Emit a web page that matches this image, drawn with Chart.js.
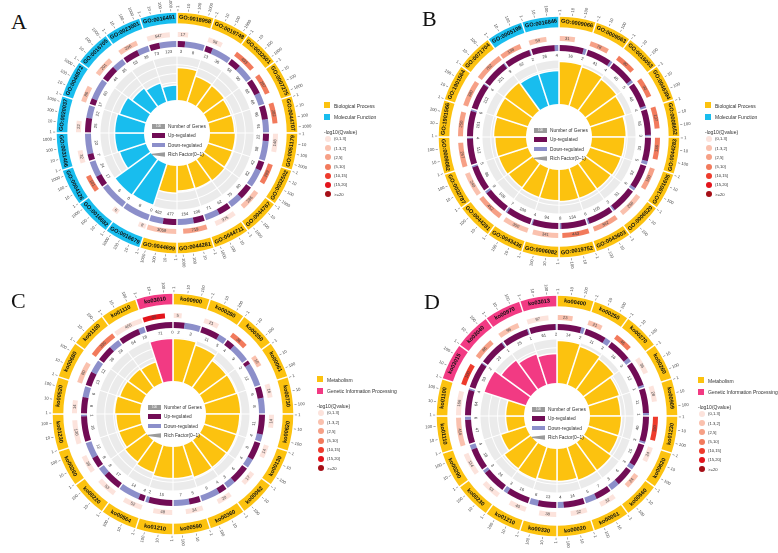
<!DOCTYPE html>
<html>
<head>
<meta charset="utf-8">
<script src="https://cdn.jsdelivr.net/npm/chart.js@4.4.1/dist/chart.umd.min.js"></script>
<style>
  body { margin:0; background:#fff; }
  #page { position:relative; width:778px; height:553px; overflow:hidden; font-family:"Liberation Sans", Arial, sans-serif; }
  canvas { position:absolute; }
  .letter { position:absolute; font-family:"Liberation Serif","DejaVu Serif",serif; font-size:22px; line-height:22px; color:#111; }
  .key { position:absolute; font-size:5px; line-height:6px; color:#333; white-space:nowrap; }
  .key div { position:absolute; left:0; }
  .inner { position:absolute; font-size:4.8px; line-height:5px; color:#333; white-space:nowrap; }
  .inner div { position:absolute; }
</style>
</head>
<body>
<div id="page"></div>
<script>
// ---- panel A (GO, DEGs) ----
const termsA = ['GO:0018958','GO:0019748','GO:0032501','GO:0007275','GO:0044707','GO:0051179','GO:0032502','GO:0044767','GO:0044711','GO:0044281','GO:0044699',
                'GO:0016679','GO:0016682','GO:0004126','GO:0031406','GO:0020037','GO:0046872','GO:0016705','GO:0023001','GO:0016491'];
const classA = [0,0,0,0,0,0,0,0,0,0,0, 1,1,1,1,1,1,1,1,1];
const genesA = [17, 56, 493, 287, 282, 148, 289, 286, 375, 719, 3059, 8, 6, 101, 32, 22, 86, 201, 236, 547];
const qA     = [0, 0, 3, 3, 3, 0, 3, 1, 0, 2, 1, 0, 0, 3, 0, 0, 1, 1, 1, 0];
const upA    = [3, 13, 58, 88, 96, 22, 42, 80, 62, 106, 477, 0, 0, 17, 7, 25, 17, 44, 53, 73];
const downA  = [8, 36, 90, 68, 91, 58, 82, 75, 71, 154, 482, 8, 6, 24, 22, 22, 60, 35, 39, 123];
const richA  = [0.74, 0.61, 0.59, 0.55, 0.56, 0.58, 0.58, 0.6, 0.58, 0.57, 0.62, 0.98, 1.0, 0.63, 0.67, 0.67, 0.63, 0.52, 0.45, 0.34];
const ticksA = [1, 10, 100, 1000];

// ---- panel B ----
const termsB = ['GO:0009066','GO:0009063','GO:0016053','GO:0046394','GO:0008652','GO:0044283','GO:1901605','GO:0006520','GO:0043603','GO:0019752',
                'GO:0006082','GO:0043436','GO:0044281','GO:0032787','GO:0009082','GO:1901566','GO:1901564','GO:0071704','GO:0005198','GO:0016846'];
const classB = [0,0,0,0,0,0,0,0,0,0,0,0,0,0,0,0,0,0, 1,1];
const genesB = [31, 78, 90, 90, 137, 136, 160, 256, 342, 443, 341, 350, 452, 240, 257, 250, 380, 752, 138, 54];
const qB     = [1, 2, 3, 3, 3, 3, 2, 1, 2, 3, 1, 1, 2, 1, 2, 2, 2, 2, 2, 1];
const upB    = [16, 41, 45, 48, 55, 33, 52, 51, 105, 134, 94, 100, 106, 86, 112, 101, 112, 221, 62, 26];
const downB  = [2, 4, 5, 4, 3, 5, 6, 3, 6, 8, 4, 7, 9, 5, 4, 6, 4, 9, 2, 4];
const richB  = [0.97, 0.93, 0.88, 0.84, 0.78, 0.75, 0.74, 0.72, 0.72, 0.72, 0.7, 0.7, 0.68, 0.7, 0.71, 0.74, 0.77, 0.79, 0.76, 0.76];
const ticksB = [1, 10, 100];

// ---- panel C (KEGG) ----
const termsC = ['ko00900','ko00280','ko00350','ko00061','ko00730','ko00620','ko00130','ko00062','ko00360','ko00590',
                'ko01210','ko00564','ko00220','ko00260','ko01230','ko00520','ko00680','ko01100','ko01110','ko03010'];
const classC = [0,0,0,0,0,0,0,0,0,0,0,0,0,0,0,0,0,0,0, 1];
const genesC = [5, 21, 38, 10, 16, 14, 14, 17, 20, 34, 48, 52, 53, 36, 130, 14, 80, 330, 400, 90];
const qC     = [0, 0, 3, 1, 0, 0, 0, 0, 0, 0, 0, 0, 0, 0, 0, 0, 1, 3, 0, 5];
const upC    = [2, 11, 4, 2, 6, 11, 8, 6, 4, 5, 15, 4, 17, 8, 16, 9, 13, 36, 64, 71];
const downC  = [3, 5, 9, 12, 8, 4, 4, 3, 9, 7, 2, 14, 8, 12, 1, 6, 12, 24, 18, 0];
const richC  = [0.97, 0.9, 0.76, 0.77, 0.79, 0.77, 0.77, 0.76, 0.77, 0.72, 0.72, 0.66, 0.61, 0.55, 0.55, 0.58, 0.53, 0.52, 0.5, 0.97];
const ticksC = [1, 10, 100];

// ---- panel D ----
const termsD = ['ko00400','ko00250','ko00270','ko00260','ko00909','ko01230','ko00620','ko00660','ko00051','ko00020',
                'ko00330','ko01210','ko00230','ko00290','ko01110','ko01100','ko03015','ko03040','ko00970','ko03013'];
const classD = [0,0,0,0,0,0,0,0,0,0,0,0,0,0,0,0, 1,1,1,1];
const genesD = [23, 21, 46, 36, 28, 150, 24, 24, 32, 32, 38, 40, 53, 114, 416, 166, 100, 86, 96, 97];
const qD     = [1, 1, 3, 0, 0, 4, 0, 1, 0, 0, 0, 0, 0, 0, 1, 0, 4, 2, 1, 0];
const upD    = [14, 11, 16, 12, 11, 40, 15, 6, 7, 14, 13, 16, 24, 18, 47, 64, 53, 23, 25, 61];
const downD  = [2, 3, 3, 1, 1, 3, 3, 3, 5, 4, 6, 3, 3, 4, 6, 4, 2, 1, 1, 2];
const richD  = [0.97, 0.92, 0.86, 0.75, 0.7, 0.72, 0.72, 0.79, 0.79, 0.74, 0.73, 0.77, 0.74, 0.6, 0.42, 0.42, 1.0, 0.83, 0.74, 0.67];
const ticksD = [1, 10, 100];

const qLabels = ['(0,1.3]', '(1.3,2]', '(2,5]', '(5,10]', '(10,15]', '(15,20]', '>=20'];
const qColors = ['#FCE3DC', '#FAC1AE', '#F6A086', '#F27A5C', '#EE3B2C', '#E3141C', '#A50E16'];
const catsGO = ['Biological Process', 'Molecular Function'];
const catsKO = ['Metabolism', 'Genetic Information Processing'];
const colGO = ['#FCC20F', '#18BDEE'];
const colKO = ['#FCC20F', '#F23A83'];
const upColor = '#710C55', downColor = '#8C8FCA', gray = '#EBEBEB', CLEAR = 'rgba(0,0,0,0)';

const R_OUT = 121, R_UD = 86, R_GRAY = 77, GAP = 0.025;

const panels = [
  { letter:'A', lx:11, ly:11, cx:177, cy:133, terms:termsA, cls:classA, genes:genesA, q:qA, up:upA, down:downA, rich:richA, ticks:ticksA, L:3.5, cats:catsGO, colors:colGO, kx:324, ky:102 },
  { letter:'B', lx:422, ly:8, cx:559, cy:137, terms:termsB, cls:classB, genes:genesB, q:qB, up:upB, down:downB, rich:richB, ticks:ticksB, L:2.9, cats:catsGO, colors:colGO, kx:705, ky:102 },
  { letter:'C', lx:11, ly:290, cx:173, cy:414, terms:termsC, cls:classC, genes:genesC, q:qC, up:upC, down:downC, rich:richC, ticks:ticksC, L:2.6, cats:catsKO, colors:colKO, kx:317, ky:376 },
  { letter:'D', lx:424, ly:291, cx:557, cy:416, terms:termsD, cls:classD, genes:genesD, q:qD, up:upD, down:downD, rich:richD, ticks:ticksD, L:2.7, cats:catsKO, colors:colKO, kx:698, ky:377 }
];

const page = document.getElementById('page');

function tang(ctx, txt, x, y, a, r, font, color) {
  ctx.save();
  ctx.translate(x + r * Math.cos(a), y + r * Math.sin(a));
  ctx.rotate(Math.sin(a) < 1e-9 ? a + Math.PI / 2 : a - Math.PI / 2);
  ctx.font = font; ctx.fillStyle = color;
  ctx.textAlign = 'center'; ctx.textBaseline = 'middle';
  ctx.fillText(txt, 0, 0);
  ctx.restore();
}

function radial(ctx, txt, x, y, a, r, font, color) {
  ctx.save();
  ctx.translate(x + r * Math.cos(a), y + r * Math.sin(a));
  const right = Math.cos(a) >= -1e-9;
  ctx.rotate(right ? a : a + Math.PI);
  ctx.font = font; ctx.fillStyle = color;
  ctx.textAlign = right ? 'left' : 'right'; ctx.textBaseline = 'middle';
  ctx.fillText(txt, 0, 0);
  ctx.restore();
}

// labels, tick scale and numbers on the rings
const ringText = {
  id: 'ringText',
  afterDatasetsDraw(chart, args, opts) {
    const p = opts.panel, ctx = chart.ctx;
    const sec = chart.getDatasetMeta(0).data;
    const gen = chart.getDatasetMeta(2).data;
    const ud = chart.getDatasetMeta(4).data;
    sec.forEach((arc, i) => {
      const mid = (arc.startAngle + arc.endAngle) / 2;
      tang(ctx, p.terms[i], arc.x, arc.y, mid, (arc.innerRadius + arc.outerRadius) / 2, 'bold 5.6px "Liberation Sans", Arial', '#111');
      const span = arc.endAngle - arc.startAngle;
      p.ticks.forEach(t => {
        const a = arc.startAngle + span * (GAP + (1 - 2 * GAP) * Math.log10(t) / p.L);
        ctx.save();
        ctx.strokeStyle = '#555'; ctx.lineWidth = 0.5;
        ctx.beginPath();
        ctx.moveTo(arc.x + (arc.outerRadius + 0.8) * Math.cos(a), arc.y + (arc.outerRadius + 0.8) * Math.sin(a));
        ctx.lineTo(arc.x + (arc.outerRadius + 3) * Math.cos(a), arc.y + (arc.outerRadius + 3) * Math.sin(a));
        ctx.stroke();
        ctx.restore();
        radial(ctx, String(t), arc.x, arc.y, a, arc.outerRadius + 4.2, '4.2px "Liberation Sans", Arial', '#444');
      });
      const g = gen[3 * i + 1];
      tang(ctx, String(p.genes[i]), g.x, g.y, (g.startAngle + g.endAngle) / 2, (g.innerRadius + g.outerRadius) / 2, '4.2px "Liberation Sans", Arial', '#444');
      const u = ud[4 * i + 1], d = ud[4 * i + 2];
      tang(ctx, String(p.up[i]), u.x, u.y, (u.startAngle + u.endAngle) / 2, u.innerRadius - 4.5, '4.2px "Liberation Sans", Arial', '#333');
      tang(ctx, String(p.down[i]), d.x, d.y, (d.startAngle + d.endAngle) / 2, d.innerRadius - 4.5, '4.2px "Liberation Sans", Arial', '#333');
    });
  }
};

function ringChart(p) {
  const S = 300;
  const cv = document.createElement('canvas');
  cv.width = S; cv.height = S;
  cv.style.left = (p.cx - S / 2) + 'px'; cv.style.top = (p.cy - S / 2) + 'px';
  cv.style.width = S + 'px'; cv.style.height = S + 'px';
  page.appendChild(cv);

  const geneData = [], geneCol = [];
  p.genes.forEach((g, i) => {
    const f = (1 - 2 * GAP) * Math.min(1, Math.log10(g) / p.L);
    geneData.push(GAP, f, 1 - GAP - f);
    geneCol.push(CLEAR, qColors[p.q[i]], CLEAR);
  });
  const udData = [], udCol = [];
  p.up.forEach((u, i) => {
    const d = p.down[i], t = (u + d) || 1;
    udData.push(GAP, (1 - 2 * GAP) * u / t, (1 - 2 * GAP) * d / t, GAP);
    udCol.push(CLEAR, upColor, downColor, CLEAR);
  });

  new Chart(cv, {
    type: 'doughnut',
    data: {
      datasets: [
        { data: p.terms.map(() => 1), backgroundColor: p.cls.map(c => p.colors[c]), borderColor: '#fff', borderWidth: 1.4, weight: 12 },
        { data: [1], backgroundColor: CLEAR, borderWidth: 0, weight: 8 },
        { data: geneData, backgroundColor: geneCol, borderWidth: 0, weight: 5 },
        { data: [1], backgroundColor: CLEAR, borderWidth: 0, weight: 4 },
        { data: udData, backgroundColor: udCol, borderWidth: 0, weight: 6 }
      ]
    },
    options: {
      responsive: false, animation: false, devicePixelRatio: 2, events: [],
      radius: R_OUT, cutout: (R_UD / R_OUT * 100) + '%',
      plugins: { legend: { display: false }, tooltip: { enabled: false }, ringText: { panel: p } }
    },
    plugins: [ringText]
  });
}

function richChart(p) {
  const S = R_GRAY * 2;
  const cv = document.createElement('canvas');
  cv.width = S; cv.height = S;
  cv.style.left = (p.cx - R_GRAY) + 'px'; cv.style.top = (p.cy - R_GRAY) + 'px';
  cv.style.width = S + 'px'; cv.style.height = S + 'px';
  page.appendChild(cv);
  const rings = [0.2, 0.4, 0.6, 0.8, 1.0];
  new Chart(cv, {
    type: 'polarArea',
    data: {
      labels: p.terms,
      datasets: [
        { data: p.terms.map(() => 0), backgroundColor: '#fff', borderWidth: 0 },
        { data: p.rich, backgroundColor: p.cls.map(c => p.colors[c]), borderColor: '#fff', borderWidth: 1.5 }
      ].concat(rings.map(v => ({ data: p.terms.map(() => v), backgroundColor: gray, borderColor: '#fff', borderWidth: 1 })))
    },
    options: {
      responsive: false, animation: false, devicePixelRatio: 2, events: [],
      plugins: { legend: { display: false }, tooltip: { enabled: false } },
      scales: { r: { min: -0.75, max: 1, ticks: { display: false }, grid: { display: false }, angleLines: { display: false }, pointLabels: { display: false } } }
    }
  });
}

function el(parent, css, html) {
  const d = document.createElement('div');
  d.style.cssText = css;
  if (html !== undefined) d.innerHTML = html;
  parent.appendChild(d);
  return d;
}

function legends(p) {
  el(page, 'left:' + p.lx + 'px;top:' + p.ly + 'px', p.letter).className = 'letter';

  // centre key
  const c = el(page, 'left:' + (p.cx - 25) + 'px;top:' + (p.cy - 9) + 'px;width:70px;height:40px');
  c.className = 'inner';
  const rows = ['Number of Genes', 'Up-regulated', 'Down-regulated', 'Rich Factor(0~1)'];
  const sw = [
    'background:#9b9b9b;color:#fff;font-size:3px;line-height:4.5px;text-align:center',
    'background:' + upColor, 'background:' + downColor,
    'background:#9b9b9b;clip-path:polygon(0 35%,100% 0,100% 100%,0 65%)'
  ];
  rows.forEach((t, i) => {
    el(c, 'left:0;top:' + (i * 9.4) + 'px;width:13px;height:4.5px;' + sw[i], i === 0 ? '100' : '');
    el(c, 'left:16px;top:' + (i * 9.4) + 'px', t);
  });

  // side key
  const k = el(page, 'left:' + p.kx + 'px;top:' + p.ky + 'px;width:90px;height:100px');
  k.className = 'key';
  p.cats.forEach((t, i) => {
    el(k, 'top:' + (i * 11.5) + 'px;width:6px;height:6px;background:' + p.colors[i]);
    el(k, 'left:10px;top:' + (i * 11.5 + 0.5) + 'px', t);
  });
  el(k, 'top:' + 26.5 + 'px', '-log10(Qvalue)');
  qLabels.forEach((t, i) => {
    el(k, 'left:1px;top:' + (34 + i * 9.2) + 'px;width:6px;height:6px;border-radius:50%;background:' + qColors[i]);
    el(k, 'left:10px;top:' + (34.3 + i * 9.2) + 'px;font-size:4.2px', t);
  });
}

panels.forEach(p => { ringChart(p); richChart(p); legends(p); });
</script>
</body>
</html>
